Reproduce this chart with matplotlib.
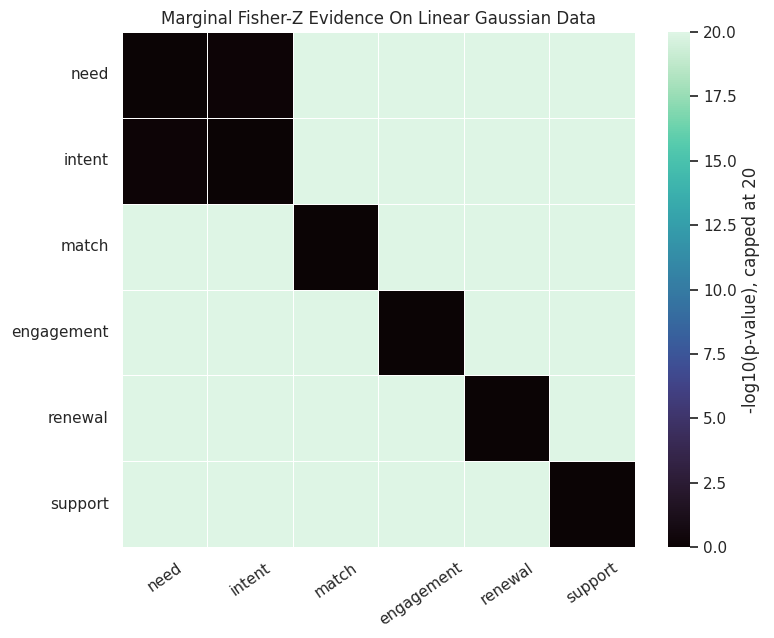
import matplotlib
matplotlib.use("Agg")
import matplotlib.pyplot as plt
import numpy as np
import seaborn as sns

sns.set_theme(style="white")

variables = ["need", "intent", "match", "engagement", "renewal", "support"]
# -log10(p-value), capped at 20
evidence = np.array([
    [0.0, 0.15, 20.0, 20.0, 20.0, 20.0],
    [0.15, 0.0, 20.0, 20.0, 20.0, 20.0],
    [20.0, 20.0, 0.0, 20.0, 20.0, 20.0],
    [20.0, 20.0, 20.0, 0.0, 20.0, 20.0],
    [20.0, 20.0, 20.0, 20.0, 0.0, 20.0],
    [20.0, 20.0, 20.0, 20.0, 20.0, 0.0],
])

fig = plt.figure(figsize=(7.74, 6.38), dpi=100)
ax = fig.add_axes([0.1576, 0.1426, 0.6628, 0.8072])
cax = fig.add_axes([0.8630, 0.1426, 0.0284, 0.8072])
sns.heatmap(evidence, ax=ax, cbar_ax=cax, cmap="mako", vmin=0, vmax=20,
            linewidths=0.5, linecolor="white",
            xticklabels=variables, yticklabels=variables,
            cbar_kws={"label": "-log10(p-value), capped at 20"})
ax.set_title("Marginal Fisher-Z Evidence On Linear Gaussian Data", fontsize=12)
plt.setp(ax.get_xticklabels(), rotation=35, ha="center")
plt.setp(ax.get_yticklabels(), rotation=0)
fig.savefig("out.png", dpi=100)
